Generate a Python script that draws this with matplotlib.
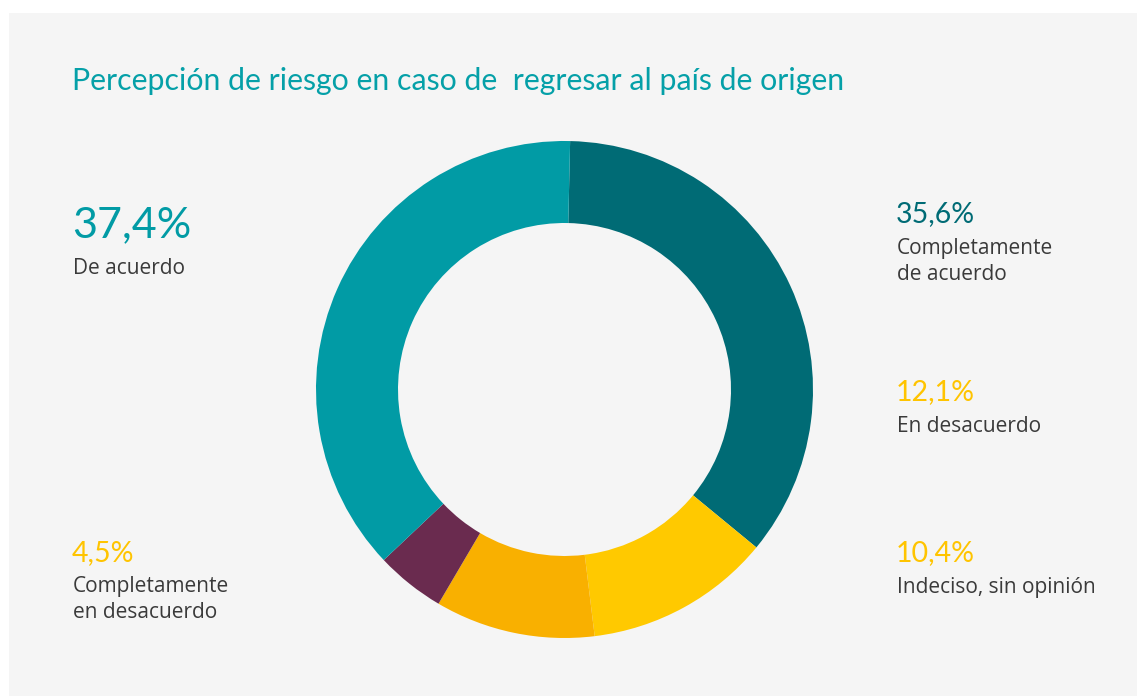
import matplotlib
matplotlib.use("Agg")
import matplotlib.pyplot as plt
from matplotlib.patches import Rectangle

W, H = 1137, 696
title = "Percepción de riesgo en caso de  regresar al país de origen"
categories = [["Completamente", "de acuerdo"], ["En desacuerdo"], ["Indeciso, sin opinión"],
              ["Completamente", "en desacuerdo"], ["De acuerdo"]]
values = [35.6, 12.1, 10.4, 4.5, 37.4]
value_labels = ["35,6%", "12,1%", "10,4%", "4,5%", "37,4%"]
colors = ["#006B75", "#FFC900", "#F9B000", "#6A2B4F", "#019BA5"]
label_colors = ["#006B75", "#FFC400", "#FFC400", "#FFC400", "#019BA5"]

fig = plt.figure(figsize=(W / 100, H / 100), dpi=100, facecolor="white")
fig.patches.append(Rectangle((9 / W, 0), 1, (H - 13) / H, transform=fig.transFigure,
                             facecolor="#F5F5F5", edgecolor="none", zorder=-10))

def px(x, y):
    return x / W, 1 - y / H

# donut
R = 248.5
cx, cy = 564.5, 389.5
ax = fig.add_axes([(cx - R) / W, (H - cy - R) / H, 2 * R / W, 2 * R / H])
ax.pie(values, colors=colors, startangle=88.7, counterclock=False, radius=1,
       wedgeprops=dict(width=0.33, edgecolor="none"))
ax.set_xlim(-1, 1)
ax.set_ylim(-1, 1)
ax.set_aspect("equal")
ax.axis("off")

tf = "Lato"
bf = "Open Sans"

fig.text(*px(72, 90), title, fontsize=21.8, color="#05A0A8", family=tf, va="baseline")

# label positions (x, value baseline, first body baseline, value size)
pos = [
    (896, 222, 254, 20.5),
    (896, 400, 432, 20.5),
    (896, 561, 593, 20.5),
    (72, 561, 592, 20.5),
    (72, 237, 274, 31),
]
for cat, vl, lc, (x, yb, yt, fs) in zip(categories, value_labels, label_colors, pos):
    fig.text(*px(x, yb), vl, fontsize=fs, color=lc, family=tf, va="baseline")
    for i, line in enumerate(cat):
        fig.text(*px(x + 1, yt + i * 26), line, fontsize=15, color="#3A3A3A", family=bf,
                 va="baseline")

fig.savefig("out.png", dpi=100, facecolor=fig.get_facecolor())
